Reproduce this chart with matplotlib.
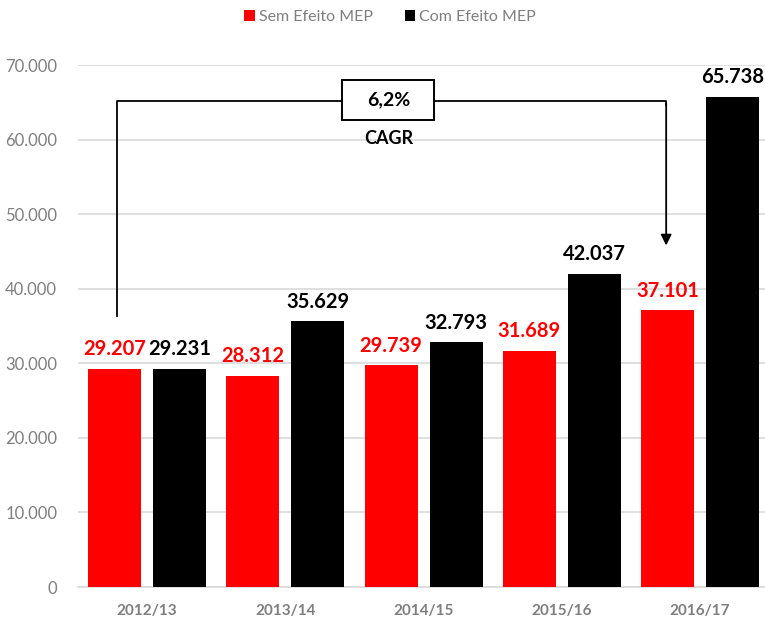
import matplotlib
matplotlib.use("Agg")
import matplotlib.pyplot as plt
from matplotlib.patches import Rectangle
import numpy as np

categories = ["2012/13", "2013/14", "2014/15", "2015/16", "2016/17"]
sem_mep = [29207, 28312, 29739, 31689, 37101]
com_mep = [29231, 35629, 32793, 42037, 65738]
yticks = [0, 10000, 20000, 30000, 40000, 50000, 60000, 70000]
cagr_text = "6,2%"
cagr_label = "CAGR"

plt.rcParams['font.family'] = ['Lato', 'DejaVu Sans']

fig = plt.figure(figsize=(7.65, 6.17), dpi=100)
ax = fig.add_axes([0.102, 0.0486, 0.898, 0.846])

x = np.arange(len(categories))
w = 0.383
off = 0.235
RED = "#ff0000"
b1 = ax.bar(x - off, sem_mep, width=w, color=RED, label="Sem Efeito MEP", zorder=3)
b2 = ax.bar(x + off, com_mep, width=w, color="#000000", label="Com Efeito MEP", zorder=3)

def fmt(v):
    return f"{v:,}".replace(",", ".")

for xi, v in zip(x - off, sem_mep):
    ax.annotate(fmt(v), (xi, v), xytext=(0, 7), textcoords="offset points",
                ha="center", va="bottom", fontsize=14.5, fontweight="bold", color=RED, zorder=5)
for xi, v in zip(x + off, com_mep):
    ax.annotate(fmt(v), (xi, v), xytext=(0, 7), textcoords="offset points",
                ha="center", va="bottom", fontsize=14.5, fontweight="bold", color="black", zorder=5)

ax.set_xlim(-0.5, 4.47)
ax.set_ylim(0, 70000)
ax.set_yticks(yticks)
ax.set_yticklabels([fmt(t) for t in yticks], fontsize=12, color="#7f7f7f")
ax.set_xticks(x)
ax.set_xticklabels(categories, fontsize=11, fontweight="bold", color="#7f7f7f")
ax.tick_params(axis="both", length=0)
ax.tick_params(axis="y", pad=15)
ax.tick_params(axis="x", pad=12)
ax.grid(axis="y", color="#d9d9d9", linewidth=1.2, zorder=0)
for s in ["top", "right", "left"]:
    ax.spines[s].set_visible(False)
ax.spines["bottom"].set_color("#d9d9d9")
ax.spines["bottom"].set_linewidth(1.2)

# CAGR bracket
xl, xr = -0.22, -0.245 + 4
y_low, y_top, y_tip = 36300, 65200, 45800
ax.plot([xl, xl, xr, xr], [y_low, y_top, y_top, y_top - 500], color="black", lw=1.3, zorder=4)
ax.annotate("", xy=(xr, y_tip), xytext=(xr, y_top - 400),
            arrowprops=dict(arrowstyle="-|>", color="black", lw=1.3,
                            mutation_scale=16, shrinkA=0, shrinkB=0), zorder=4)
ax.add_patch(Rectangle((1.413, 62600), 0.665, 5400, fc="white", ec="black", lw=1.4, zorder=5))
ax.text(1.745, y_top + 100, cagr_text, ha="center", va="center", fontsize=14, fontweight="bold", zorder=6)
ax.text(1.745, 60100, cagr_label, ha="center", va="center", fontsize=13, fontweight="bold", zorder=6)

fig.legend(handles=[b1, b2], loc="center", bbox_to_anchor=(0.51, 0.972), ncol=2,
           frameon=False, fontsize=11.5, labelcolor="#7f7f7f", handlelength=0.65,
           handleheight=0.65, handletextpad=0.25, columnspacing=2.0)

fig.savefig("out.png", dpi=100)
